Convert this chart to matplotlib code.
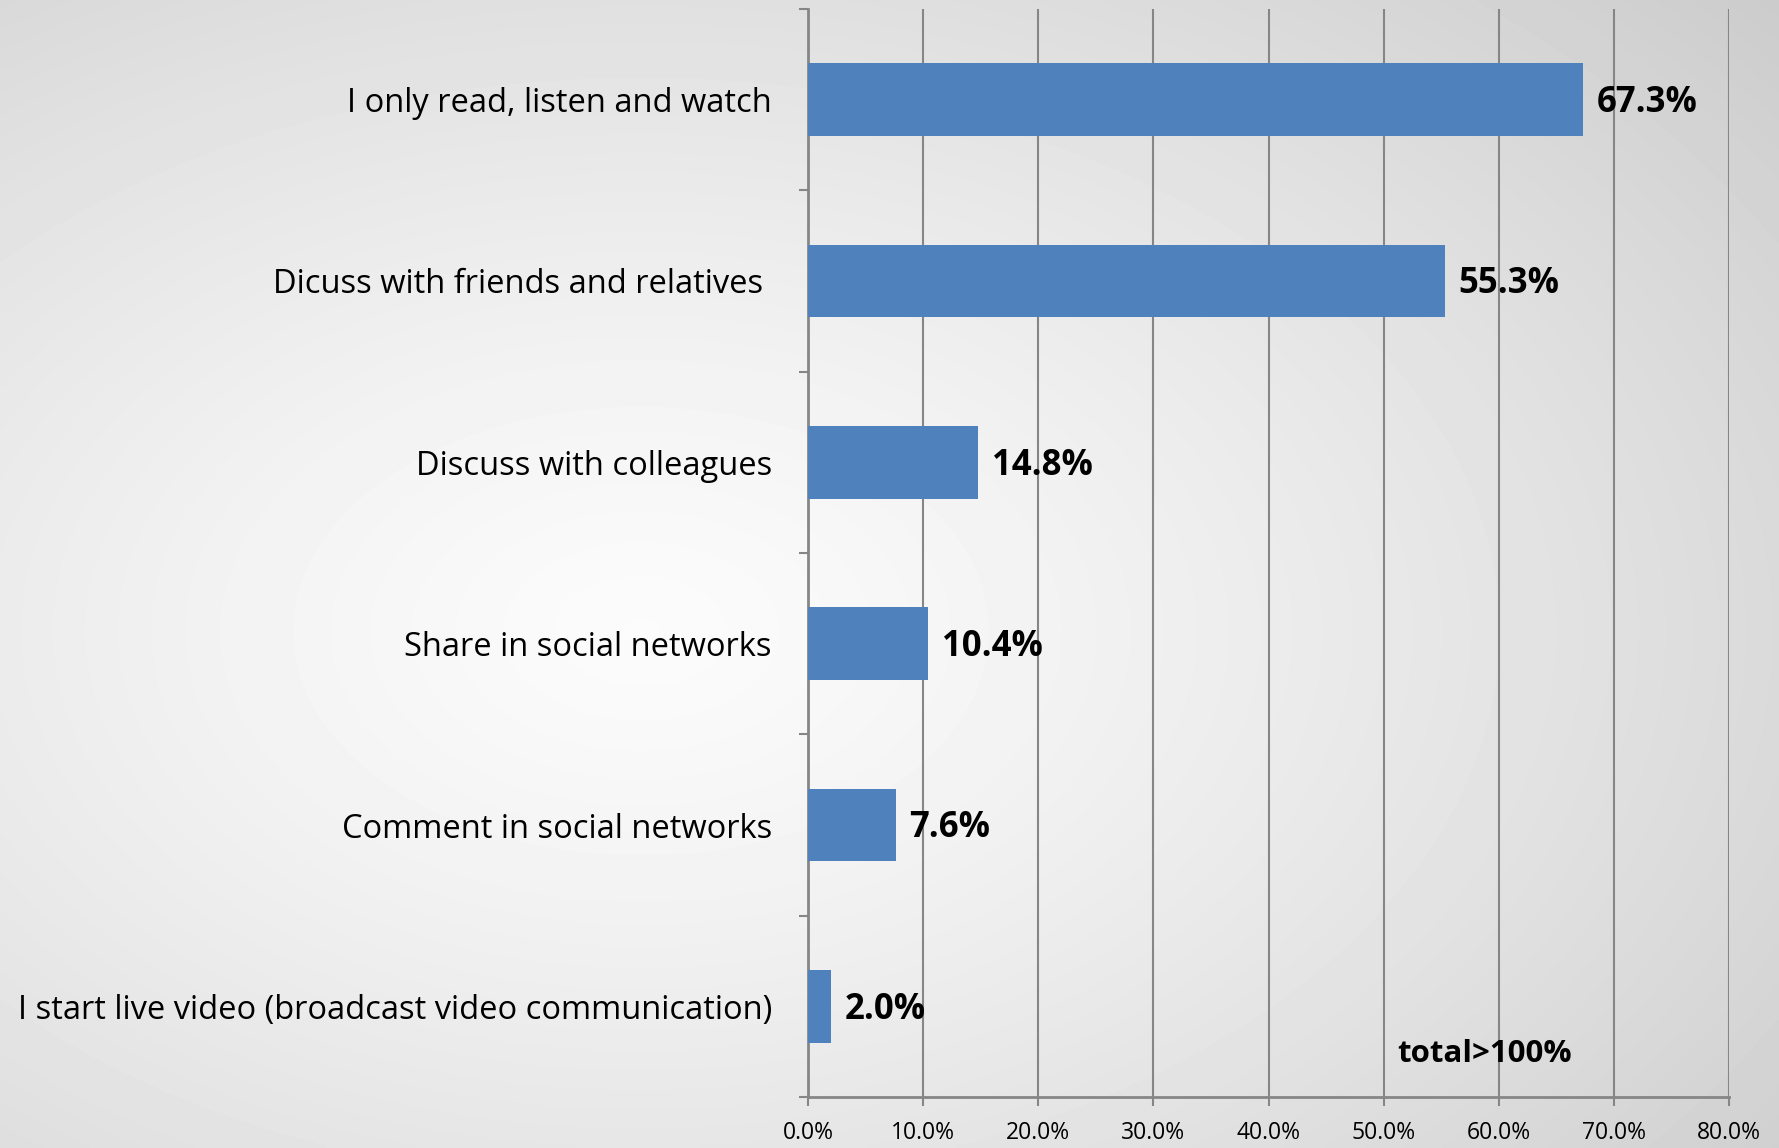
import numpy as np
import matplotlib.pyplot as plt
import matplotlib as mpl

mpl.rcParams['font.family'] = ['Open Sans', 'DejaVu Sans']

categories = ['I only read, listen and watch',
              'Dicuss with friends and relatives ',
              'Discuss with colleagues',
              'Share in social networks',
              'Comment in social networks',
              'I start live video (broadcast video communication)']
shares = [67.3, 55.3, 14.8, 10.4, 7.6, 2.0]
xticks = [0, 10, 20, 30, 40, 50, 60, 70, 80]
note = 'total>100%'

bar_color = '#4F81BD'
line_color = '#868686'

fig = plt.figure(figsize=(17.79, 11.48), dpi=100)

# soft radial grey background
bg = fig.add_axes([0, 0, 1, 1])
gx, gy = np.meshgrid(np.linspace(0, 1, 400), np.linspace(0, 1, 260))
r = np.sqrt(((gx - 0.36) / 0.75) ** 2 + ((gy - 0.55) / 0.75) ** 2)
shade = 0.985 - 0.16 * np.clip(r, 0, 1.2) ** 1.3
bg.imshow(shade, cmap='gray', vmin=0, vmax=1, extent=[0, 1, 0, 1],
          aspect='auto', interpolation='bilinear')
bg.axis('off')

ax = fig.add_axes([0.4542, 0.0444, 0.5177, 0.9478])
ax.patch.set_alpha(0)

ypos = np.arange(len(categories))
ax.barh(ypos, shares, height=0.4, color=bar_color, zorder=3)

for y, v in zip(ypos, shares):
    ax.annotate(f'{v:.1f}%', (v, y), xytext=(10, -2.5), textcoords='offset points',
                ha='left', va='center', fontsize=25, fontweight='bold', zorder=4)

ax.set_xlim(0, 80)
ax.set_ylim(len(categories) - 0.5, -0.5)
ax.set_xticks(xticks)
ax.set_xticklabels([f'{t:.1f}%' for t in xticks], fontsize=16.5)
ax.set_yticks(ypos)
ax.set_yticklabels(categories, fontsize=23.5)
ax.set_yticks(np.arange(-0.5, len(categories)), minor=True)

ax.tick_params(axis='y', which='major', length=0, pad=26)
ax.tick_params(axis='y', which='minor', length=6.5, width=1.5, color=line_color, direction='out')
ax.tick_params(axis='x', length=6.5, width=1.5, color=line_color, direction='out', pad=11)

ax.grid(axis='x', color=line_color, linewidth=1.5, zorder=1)
for side in ['top', 'right']:
    ax.spines[side].set_visible(False)
for side in ['left', 'bottom']:
    ax.spines[side].set_color(line_color)
    ax.spines[side].set_linewidth(2)

ax.text(51.2, 5.26, note, fontsize=22.5, fontweight='bold', va='center', ha='left', zorder=4)

fig.savefig('out.png', dpi=100)
